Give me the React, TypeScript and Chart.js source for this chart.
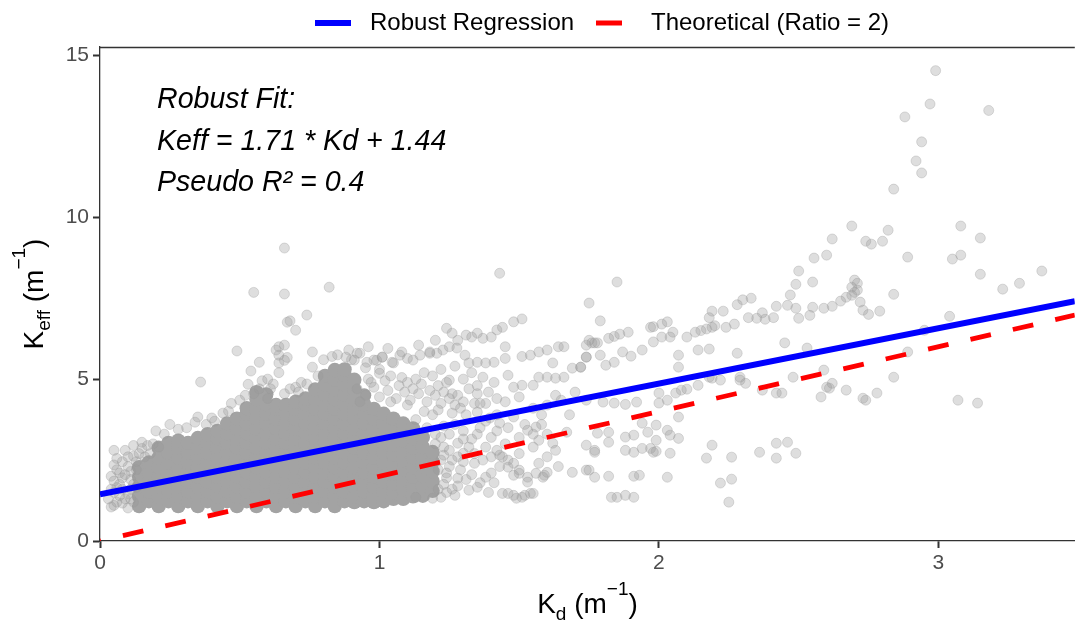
import React, { useEffect, useRef } from "react";
import { Chart, registerables } from "chart.js";

Chart.register(...registerables);

const FONT = "'Liberation Sans', Arial, Helvetica, sans-serif";

// ---- axes ----
const xTicks = [0, 1, 2, 3];
const yTicks = [0, 5, 10, 15];
const xLimits = [0, 3.488];
const yLimits = [0, 15.26];

// ---- fitted / reference lines (endpoints) ----
const robustX = [0, 3.488];
const robustY = [1.44, 7.405];
const theoreticalX = [0, 3.488];
const theoreticalY = [0, 6.976];

// ---- legend & annotation text ----
const legendLabels = ["Robust Regression", "Theoretical (Ratio = 2)"];
const annotationLines = ["Robust Fit:", "Keff = 1.71 * Kd + 1.44", "Pseudo R\u00B2 = 0.4"];

// ---- dense core of the cloud: [Kd, Keff values in that column] ----
const coreColumns: [number, number[]][] = [
  [0.14, [1.08, 1.38, 1.68, 1.98, 2.28]],
  [0.175, [1.23, 1.53, 1.83, 2.13, 2.43]],
  [0.21, [1.08, 1.38, 1.68, 1.98, 2.28, 2.58, 2.88]],
  [0.245, [1.23, 1.53, 1.83, 2.13, 2.43, 2.73, 3.03]],
  [0.28, [1.08, 1.38, 1.68, 1.98, 2.28, 2.58, 2.88, 3.1]],
  [0.315, [1.23, 1.53, 1.83, 2.13, 2.43, 2.73, 3.03]],
  [0.35, [1.08, 1.38, 1.68, 1.98, 2.28, 2.58, 2.88, 3.18]],
  [0.385, [1.23, 1.53, 1.83, 2.13, 2.43, 2.73, 3.03, 3.3]],
  [0.42, [1.08, 1.38, 1.68, 1.98, 2.28, 2.58, 2.88, 3.18, 3.4]],
  [0.455, [1.23, 1.53, 1.83, 2.13, 2.43, 2.73, 3.03, 3.33, 3.63]],
  [0.49, [1.08, 1.38, 1.68, 1.98, 2.28, 2.58, 2.88, 3.18, 3.48, 3.78]],
  [0.525, [1.23, 1.53, 1.83, 2.13, 2.43, 2.73, 3.03, 3.33, 3.63, 3.93, 4.1]],
  [0.56, [1.08, 1.38, 1.68, 1.98, 2.28, 2.58, 2.88, 3.18, 3.48, 3.78, 4.08, 4.38, 4.6]],
  [0.595, [1.23, 1.53, 1.83, 2.13, 2.43, 2.73, 3.03, 3.33, 3.63, 3.93, 4.23, 4.53]],
  [0.63, [1.08, 1.38, 1.68, 1.98, 2.28, 2.58, 2.88, 3.18, 3.48, 3.78, 4.08, 4.2]],
  [0.665, [1.23, 1.53, 1.83, 2.13, 2.43, 2.73, 3.03, 3.33, 3.63, 3.93, 4.2]],
  [0.7, [1.08, 1.38, 1.68, 1.98, 2.28, 2.58, 2.88, 3.18, 3.48, 3.78, 4.08, 4.3]],
  [0.735, [1.23, 1.53, 1.83, 2.13, 2.43, 2.73, 3.03, 3.33, 3.63, 3.93, 4.23, 4.4]],
  [0.77, [1.08, 1.38, 1.68, 1.98, 2.28, 2.58, 2.88, 3.18, 3.48, 3.78, 4.08, 4.38, 4.68]],
  [0.805, [1.23, 1.53, 1.83, 2.13, 2.43, 2.73, 3.03, 3.33, 3.63, 3.93, 4.23, 4.53, 4.83, 5.1]],
  [0.84, [1.08, 1.38, 1.68, 1.98, 2.28, 2.58, 2.88, 3.18, 3.48, 3.78, 4.08, 4.38, 4.68, 4.98, 5.28]],
  [0.875, [1.23, 1.53, 1.83, 2.13, 2.43, 2.73, 3.03, 3.33, 3.63, 3.93, 4.23, 4.53, 4.83, 5.13, 5.3]],
  [0.91, [1.2, 1.38, 1.68, 1.98, 2.28, 2.58, 2.88, 3.18, 3.48, 3.78, 4.08, 4.38, 4.68, 4.98]],
  [0.945, [1.23, 1.53, 1.83, 2.13, 2.43, 2.73, 3.03, 3.33, 3.63, 3.93, 4.23, 4.5]],
  [0.98, [1.2, 1.38, 1.68, 1.98, 2.28, 2.58, 2.88, 3.18, 3.48, 3.78, 4.08]],
  [1.015, [1.23, 1.53, 1.83, 2.13, 2.43, 2.73, 3.03, 3.33, 3.63, 3.93]],
  [1.05, [1.3, 1.5, 1.78, 2.08, 2.38, 2.68, 2.98, 3.28, 3.58, 3.78]],
  [1.085, [1.3, 1.6, 1.9, 2.2, 2.5, 2.8, 3.1, 3.4, 3.63]],
  [1.12, [1.38, 1.68, 1.98, 2.28, 2.58, 2.88, 3.18, 3.48]],
  [1.155, [1.4, 1.7, 2.0, 2.3, 2.6, 2.9, 3.2]],
  [1.19, [1.55, 1.85, 2.15, 2.45, 2.75]],
];

// ---- individually visible points: [Kd, Keff] ----
const fringeLeft: [number, number][] = [
  [0.05, 2.8], [0.09, 2.8], [0.12, 2.62], [0.15, 3.05], [0.15, 2.86], [0.2, 3.4], [0.05, 2.35],
  [0.07, 2.1], [0.05, 1.85], [0.08, 1.6], [0.05, 1.5], [0.06, 1.2], [0.08, 1.17], [0.04, 2.0],
  [0.1, 2.3], [0.11, 1.9], [0.13, 2.45], [0.1, 1.45], [0.12, 1.2], [0.03, 1.3], [0.07, 1.75],
  [0.09, 2.05], [0.13, 1.65], [0.04, 1.05], [0.1, 1.02], [0.18, 2.7], [0.21, 2.9], [0.17, 2.95],
  [0.25, 3.6], [0.34, 3.67], [0.35, 3.83], [0.4, 3.8], [0.12, 2.95], [0.08, 2.45], [0.14, 2.7],
  [0.06, 1.65], [0.11, 1.6], [0.16, 2.6], [0.19, 3.0], [0.23, 3.3], [0.28, 3.45], [0.31, 3.5],
  [0.04, 1.6], [0.06, 2.2], [0.08, 1.95], [0.09, 1.3], [0.11, 2.15], [0.12, 1.75], [0.13, 2.2],
  [0.06, 2.55], [0.1, 2.6], [0.07, 1.4], [0.05, 1.1], [0.11, 1.3],
];

const topEdge: [number, number][] = [
  [0.36, 4.91], [0.46, 4.01], [0.52, 4.5], [0.53, 4.84], [0.54, 5.25], [0.49, 5.87], [0.57, 5.52],
  [0.63, 5.9], [0.64, 6.0], [0.64, 5.2], [0.64, 5.5], [0.66, 5.58], [0.67, 5.67], [0.76, 5.84],
  [0.76, 5.37], [0.66, 6.05], [0.64, 5.74], [0.44, 3.95], [0.47, 4.25], [0.5, 4.35], [0.58, 4.95],
  [0.6, 5.0], [0.62, 4.85], [0.61, 4.7], [0.68, 4.7], [0.7, 4.75], [0.72, 4.9], [0.74, 4.85],
  [0.78, 5.1], [0.8, 5.6], [0.83, 5.7], [0.85, 5.75], [0.88, 5.68], [0.9, 5.6], [0.66, 4.55],
  [0.71, 4.6], [0.55, 4.55], [0.57, 4.7], [0.41, 3.7], [0.38, 3.6], [0.6, 4.4],
];

const highLeft: [number, number][] = [
  [0.66, 9.05], [0.55, 7.68], [0.66, 7.63], [0.82, 7.84], [0.74, 6.98], [0.67, 6.76], [0.68, 6.8],
  [0.7, 6.51],
];

const upperBand: [number, number][] = [
  [0.92, 5.8], [0.955, 5.52], [0.99, 5.58], [1.01, 5.68], [1.045, 5.52], [1.073, 5.74], [1.1, 5.64],
  [1.145, 5.74], [1.18, 5.84], [1.205, 5.8], [1.227, 5.9], [1.25, 6.0], [1.277, 5.96], [1.306, 5.74],
  [1.32, 5.5], [1.35, 5.52], [1.38, 5.5], [1.41, 5.52], [1.24, 6.57], [1.26, 6.42], [1.31, 6.36],
  [1.35, 6.42], [1.37, 6.26], [1.4, 6.3], [1.42, 6.52], [1.44, 6.6], [1.48, 6.77], [1.51, 6.86],
  [1.28, 6.2], [1.33, 6.3], [1.18, 5.8], [1.12, 5.59], [1.08, 5.84], [1.05, 5.5], [1.01, 5.68],
  [0.98, 5.59], [0.93, 5.8], [0.91, 5.59], [1.0, 5.18], [1.24, 4.9], [1.25, 4.97], [1.43, 8.27],
  [1.45, 6.0], [1.45, 5.64], [0.95, 5.35], [0.89, 5.9], [0.96, 6.0], [1.03, 5.95], [1.14, 6.05],
  [1.2, 6.2], [1.16, 5.2], [1.22, 5.3], [1.27, 5.4], [1.33, 5.2],
];

const midBand: [number, number][] = [
  [0.92, 4.7], [0.95, 4.5], [0.98, 4.75], [1.0, 4.45], [1.03, 4.65], [1.06, 4.4], [1.09, 4.6],
  [1.11, 4.35], [1.14, 4.55], [1.17, 4.3], [1.2, 4.5], [1.22, 4.25], [1.25, 4.4], [1.27, 4.2],
  [1.28, 4.5], [1.3, 4.3], [1.26, 4.55], [1.29, 4.1], [1.34, 4.25], [1.36, 4.25], [1.38, 4.25],
  [0.96, 5.0], [1.02, 4.95], [1.08, 5.05], [1.13, 5.0], [1.19, 5.1], [1.3, 5.0], [1.35, 4.8],
  [1.37, 5.06], [1.41, 4.9], [1.46, 5.12], [1.45, 4.3], [1.5, 4.45], [1.55, 4.1], [1.6, 4.2],
  [1.65, 4.35], [1.7, 4.6], [1.58, 3.9], [1.68, 3.9], [0.93, 4.3], [0.97, 4.9], [1.0, 5.3],
  [1.04, 5.1], [1.07, 4.8], [1.1, 4.9], [1.12, 4.7], [1.15, 4.85], [1.18, 4.65], [1.21, 4.8],
  [1.23, 4.6], [1.32, 4.7], [1.04, 4.3], [1.1, 4.2], [1.16, 4.0], [1.21, 4.05], [1.26, 3.95],
  [1.31, 3.9], [1.35, 4.55], [1.39, 4.6], [1.42, 4.4], [1.13, 3.75], [1.17, 3.5], [1.2, 3.3],
  [1.23, 3.55], [1.19, 3.9],
];

const lowerRight: [number, number][] = [
  [1.23, 2.9], [1.28, 3.02], [1.3, 2.71], [1.34, 2.4], [1.37, 2.5], [1.42, 2.8], [1.46, 2.28],
  [1.48, 2.4], [1.5, 2.09], [1.53, 1.97], [1.57, 2.4], [1.585, 1.97], [1.28, 1.94], [1.32, 1.57],
  [1.35, 1.66], [1.38, 1.97], [1.44, 1.47], [1.48, 1.41], [1.51, 1.35], [1.55, 1.47], [1.27, 1.41],
  [1.19, 1.32], [1.13, 1.35], [1.69, 2.12], [1.74, 2.19], [1.35, 3.98], [1.395, 3.8], [1.43, 3.64],
  [1.48, 3.83], [1.53, 3.42], [1.56, 3.52], [1.57, 3.11], [1.62, 3.02], [1.67, 3.36], [1.25, 3.3],
  [1.27, 3.6], [1.3, 3.4], [1.33, 3.15], [1.36, 3.5], [1.4, 3.2], [1.45, 3.0], [1.26, 2.5],
  [1.29, 2.2], [1.24, 2.1], [1.31, 1.9], [1.23, 1.75], [1.26, 1.6], [1.4, 2.1], [1.44, 2.6],
  [1.5, 2.7], [1.55, 2.9], [1.6, 2.6], [1.64, 2.3], [1.24, 1.5], [1.46, 1.47], [1.49, 1.32],
  [1.52, 1.41], [1.54, 1.47], [1.48, 2.03], [1.5, 2.19], [1.53, 1.82], [1.56, 2.09], [1.59, 2.03],
  [1.6, 2.12], [1.43, 2.65], [1.63, 2.8], [1.77, 2.74], [1.98, 2.74], [1.22, 3.2], [1.25, 2.8],
  [1.28, 2.6], [1.3, 3.15], [1.32, 2.9], [1.34, 2.7], [1.35, 3.3], [1.38, 2.9], [1.4, 2.6],
  [1.42, 3.4], [1.25, 2.3], [1.28, 1.7], [1.3, 2.45], [1.33, 2.05], [1.36, 1.8], [1.39, 1.5],
  [1.41, 1.8], [1.43, 2.3], [1.46, 2.5], [1.21, 1.6], [1.22, 2.5], [1.38, 3.7], [1.42, 3.9],
  [1.46, 3.5], [1.5, 3.2], [1.52, 3.6], [1.55, 3.3], [1.58, 3.6], [1.6, 3.3], [1.22, 1.35],
  [1.24, 1.95], [1.21, 2.2], [1.23, 2.65], [1.2, 3.0],
];

const rightBand: [number, number][] = [
  [1.48, 4.75], [1.51, 4.81], [1.55, 4.81], [1.57, 5.06], [1.6, 5.06], [1.63, 5.03], [1.66, 5.06],
  [1.69, 5.34], [1.72, 5.37], [1.74, 5.68], [1.63, 4.5], [1.51, 5.7], [1.54, 5.74], [1.57, 5.84],
  [1.6, 5.9], [1.64, 6.0], [1.66, 6.0], [1.74, 6.05], [1.75, 6.2], [1.62, 5.5], [1.75, 7.35],
];

const sparseMid: [number, number][] = [
  [1.85, 8.0], [1.79, 6.8], [1.76, 6.12], [1.77, 6.12], [1.78, 6.12], [1.82, 6.26], [1.84, 6.32],
  [1.86, 6.39], [1.89, 6.45], [1.97, 6.6], [1.98, 6.62], [2.01, 6.7], [2.03, 6.77], [1.98, 6.15],
  [2.01, 6.3], [2.04, 6.3], [2.05, 6.45], [2.1, 6.3], [2.13, 6.45], [2.15, 6.5], [2.17, 6.55],
  [2.19, 6.6], [2.2, 6.65], [2.24, 6.6], [2.27, 6.7], [2.18, 6.9], [2.19, 7.1], [2.23, 7.1],
  [2.28, 7.3], [2.3, 7.45], [2.33, 7.5], [2.32, 6.9], [2.35, 6.88], [2.37, 7.05], [2.38, 6.85],
  [2.41, 6.9], [2.42, 7.25], [2.46, 7.28], [2.47, 7.6], [2.49, 7.19], [2.49, 7.93], [2.5, 6.88],
  [2.5, 8.34], [2.54, 6.97], [2.55, 7.22], [2.555, 8.74], [2.55, 8.0], [2.59, 7.19], [2.6, 8.83],
  [1.72, 5.37], [1.74, 5.68], [1.79, 5.74], [1.81, 5.43], [1.84, 5.52], [1.87, 5.84], [1.9, 5.71],
  [1.94, 5.9], [2.07, 5.74], [2.07, 5.37], [2.14, 5.9], [2.18, 5.93], [2.28, 5.8], [2.45, 6.12],
  [2.53, 5.96], [1.74, 4.35], [1.8, 4.29], [1.84, 4.26], [1.88, 4.22], [1.92, 4.29], [2.0, 4.57],
  [2.03, 4.35], [2.06, 4.57], [2.08, 4.66], [2.1, 4.69], [2.14, 4.81], [2.19, 5.03], [2.22, 4.97],
  [2.29, 5.06], [2.31, 4.87], [2.37, 4.66], [2.42, 4.57], [2.44, 4.57], [2.48, 5.06], [2.59, 5.28],
  [2.58, 4.45], [2.6, 4.75], [2.29, 4.97], [2.18, 5.06], [1.74, 2.96], [1.77, 2.8], [1.78, 3.33],
  [1.82, 3.36], [1.82, 3.05], [1.88, 3.21], [1.91, 3.27], [1.88, 2.8], [1.91, 2.74], [1.94, 2.86],
  [1.97, 2.86], [1.99, 2.77], [1.94, 3.64], [1.96, 3.36], [1.99, 3.58], [1.99, 3.11], [2.03, 3.42],
  [2.04, 3.27], [2.07, 3.17], [2.04, 2.71], [2.0, 4.26], [2.07, 3.83], [1.75, 2.19], [1.77, 1.97],
  [1.82, 2.0], [1.91, 2.0], [1.93, 2.03], [2.03, 1.97], [1.83, 1.35], [1.85, 1.35], [1.88, 1.41],
  [1.91, 1.35], [2.19, 2.96], [2.17, 2.56], [2.26, 2.59], [2.22, 1.79], [2.26, 1.91], [2.25, 1.2],
  [2.36, 2.74], [2.42, 3.02], [2.42, 2.56], [2.46, 3.05], [2.49, 2.71],
];

const sparseRight: [number, number][] = [
  [2.99, 14.53], [2.97, 13.5], [2.88, 13.1], [3.18, 13.3], [2.94, 12.33], [2.92, 11.74],
  [2.94, 11.37], [2.84, 10.87], [2.69, 9.73], [2.62, 9.33], [2.74, 9.26], [2.76, 9.17], [2.82, 9.6],
  [2.8, 9.26], [2.89, 8.77], [3.08, 9.73], [3.15, 9.36], [3.05, 8.71], [3.08, 8.83], [3.15, 8.24],
  [3.37, 8.34], [3.29, 7.96], [3.23, 7.78], [2.84, 7.62], [2.7, 8.06], [2.71, 7.96], [2.69, 7.84],
  [2.7, 7.68], [2.69, 7.59], [2.71, 7.75], [2.67, 7.53], [2.65, 7.41], [2.62, 7.25], [2.72, 7.38],
  [2.73, 7.13], [2.75, 7.0], [2.79, 7.1], [3.04, 6.94], [2.95, 6.51], [2.89, 5.84], [2.84, 5.06],
  [2.62, 4.87], [2.61, 4.72], [2.67, 4.66], [2.73, 4.41], [2.74, 4.35], [2.78, 4.57], [3.07, 4.35],
  [3.14, 4.26],
];

const toPoints = (pairs: [number, number][]) => pairs.map(([x, y]) => ({ x, y }));

function drawParts(
  ctx: CanvasRenderingContext2D,
  parts: { t: string; size: number; dy: number }[],
  cx: number,
  baseline: number
) {
  let total = 0;
  for (const p of parts) {
    ctx.font = `${p.size}px ${FONT}`;
    total += ctx.measureText(p.t).width;
  }
  let x = cx - total / 2;
  ctx.textAlign = "left";
  ctx.textBaseline = "alphabetic";
  for (const p of parts) {
    ctx.font = `${p.size}px ${FONT}`;
    ctx.fillText(p.t, x, baseline + p.dy);
    x += ctx.measureText(p.t).width;
  }
}

const decorPlugin = {
  id: "decor",
  afterDraw(chart: any) {
    const ctx: CanvasRenderingContext2D = chart.ctx;
    const a = chart.chartArea;
    ctx.save();

    // top panel border
    ctx.strokeStyle = "#333333";
    ctx.lineWidth = 1.3;
    ctx.beginPath();
    ctx.moveTo(a.left, a.top + 0.5);
    ctx.lineTo(a.right, a.top + 0.5);
    ctx.stroke();

    // legend
    const ly = 23;
    ctx.lineCap = "butt";
    ctx.strokeStyle = "#0000FF";
    ctx.lineWidth = 6;
    ctx.setLineDash([]);
    ctx.beginPath();
    ctx.moveTo(315, ly);
    ctx.lineTo(351, ly);
    ctx.stroke();
    ctx.strokeStyle = "#FF0000";
    ctx.lineWidth = 5;
    ctx.setLineDash([26, 20]);
    ctx.beginPath();
    ctx.moveTo(596, ly);
    ctx.lineTo(632, ly);
    ctx.stroke();
    ctx.setLineDash([]);
    ctx.fillStyle = "#000000";
    ctx.font = `24px ${FONT}`;
    ctx.textAlign = "left";
    ctx.textBaseline = "middle";
    ctx.fillText(legendLabels[0], 370, ly);
    ctx.fillText(legendLabels[1], 651, ly);

    // annotation
    ctx.font = `italic 28.6px ${FONT}`;
    const annY = [100, 142, 183];
    annotationLines.forEach((t, i) => ctx.fillText(t, 157, annY[i]));

    // x axis title
    drawParts(
      ctx,
      [
        { t: "K", size: 28, dy: 0 },
        { t: "d", size: 19, dy: 7 },
        { t: " (m", size: 28, dy: 0 },
        { t: "\u22121", size: 19, dy: -18 },
        { t: ")", size: 28, dy: 0 },
      ],
      587.5,
      613
    );

    // y axis title
    ctx.save();
    ctx.translate(43, (a.top + a.bottom) / 2);
    ctx.rotate(-Math.PI / 2);
    drawParts(
      ctx,
      [
        { t: "K", size: 28, dy: 0 },
        { t: "eff", size: 19, dy: 7 },
        { t: " (m", size: 28, dy: 0 },
        { t: "\u22121", size: 19, dy: -18 },
        { t: ")", size: 28, dy: 0 },
      ],
      0,
      0
    );
    ctx.restore();
    ctx.restore();
  },
};

export default function App() {
  const ref = useRef<HTMLCanvasElement>(null);

  useEffect(() => {
    document.body.style.margin = "0";
    const corePoints: { x: number; y: number }[] = [];
    coreColumns.forEach(([x, ys]) => ys.forEach((y) => corePoints.push({ x, y })));
    const loosePoints = [
      ...toPoints(fringeLeft),
      ...toPoints(topEdge),
      ...toPoints(highLeft),
      ...toPoints(upperBand),
      ...toPoints(midBand),
      ...toPoints(lowerRight),
      ...toPoints(rightBand),
      ...toPoints(sparseMid),
      ...toPoints(sparseRight),
    ];

    const tickFont = { size: 21, family: FONT };
    const chart = new Chart(ref.current as HTMLCanvasElement, {
      type: "scatter",
      data: {
        datasets: [
          {
            label: legendLabels[0],
            data: robustX.map((x, i) => ({ x, y: robustY[i] })),
            showLine: true,
            borderColor: "#0000FF",
            borderWidth: 6,
            pointRadius: 0,
            fill: false,
          } as any,
          {
            label: legendLabels[1],
            data: theoreticalX.map((x, i) => ({ x, y: theoreticalY[i] })),
            showLine: true,
            borderColor: "#FF0000",
            borderWidth: 4.8,
            borderDash: [21, 22.5],
            borderDashOffset: 20,
            pointRadius: 0,
            fill: false,
          } as any,
          {
            label: "points",
            data: loosePoints,
            pointRadius: 5,
            pointBackgroundColor: "rgba(153,153,153,0.32)",
            pointBorderColor: "rgba(153,153,153,0.32)",
            pointBorderWidth: 1,
          },
          {
            label: "dense",
            data: corePoints,
            pointRadius: 7.2,
            pointBackgroundColor: "rgb(163,163,163)",
            pointBorderColor: "rgb(163,163,163)",
            pointBorderWidth: 0,
          },
        ],
      },
      options: {
        animation: false,
        responsive: false,
        devicePixelRatio: 1,
        events: [],
        layout: { padding: { top: 47, right: 0, left: 0, bottom: 0 } },
        plugins: {
          legend: { display: false },
          tooltip: { enabled: false },
          title: { display: false },
        },
        scales: {
          x: {
            type: "linear",
            min: xLimits[0],
            max: xLimits[1],
            afterBuildTicks: (s: any) => {
              s.ticks = xTicks.map((v) => ({ value: v }));
            },
            afterFit: (s: any) => {
              s.height = 80;
            },
            ticks: {
              font: tickFont,
              color: "#4D4D4D",
              padding: 3,
              maxRotation: 0,
              callback: (v: any) => String(v),
            },
            grid: {
              drawOnChartArea: false,
              drawTicks: true,
              tickLength: 7,
              tickWidth: 2,
              tickColor: "#333333",
            },
            border: { display: true, color: "#333333", width: 1.3 },
          },
          y: {
            type: "linear",
            min: yLimits[0],
            max: yLimits[1],
            afterBuildTicks: (s: any) => {
              s.ticks = yTicks.map((v) => ({ value: v }));
            },
            afterFit: (s: any) => {
              s.width = 100;
            },
            ticks: {
              font: tickFont,
              color: "#4D4D4D",
              padding: 4,
              callback: (v: any) => String(v),
            },
            grid: {
              drawOnChartArea: false,
              drawTicks: true,
              tickLength: 7,
              tickWidth: 2,
              tickColor: "#333333",
            },
            border: { display: true, color: "#333333", width: 1.3 },
          },
        },
      },
      plugins: [decorPlugin],
    });
    return () => chart.destroy();
  }, []);

  return (
    <div style={{ width: 1075, height: 621, overflow: "hidden", background: "#ffffff" }}>
      <canvas ref={ref} width={1082} height={621} style={{ display: "block" }} />
    </div>
  );
}
